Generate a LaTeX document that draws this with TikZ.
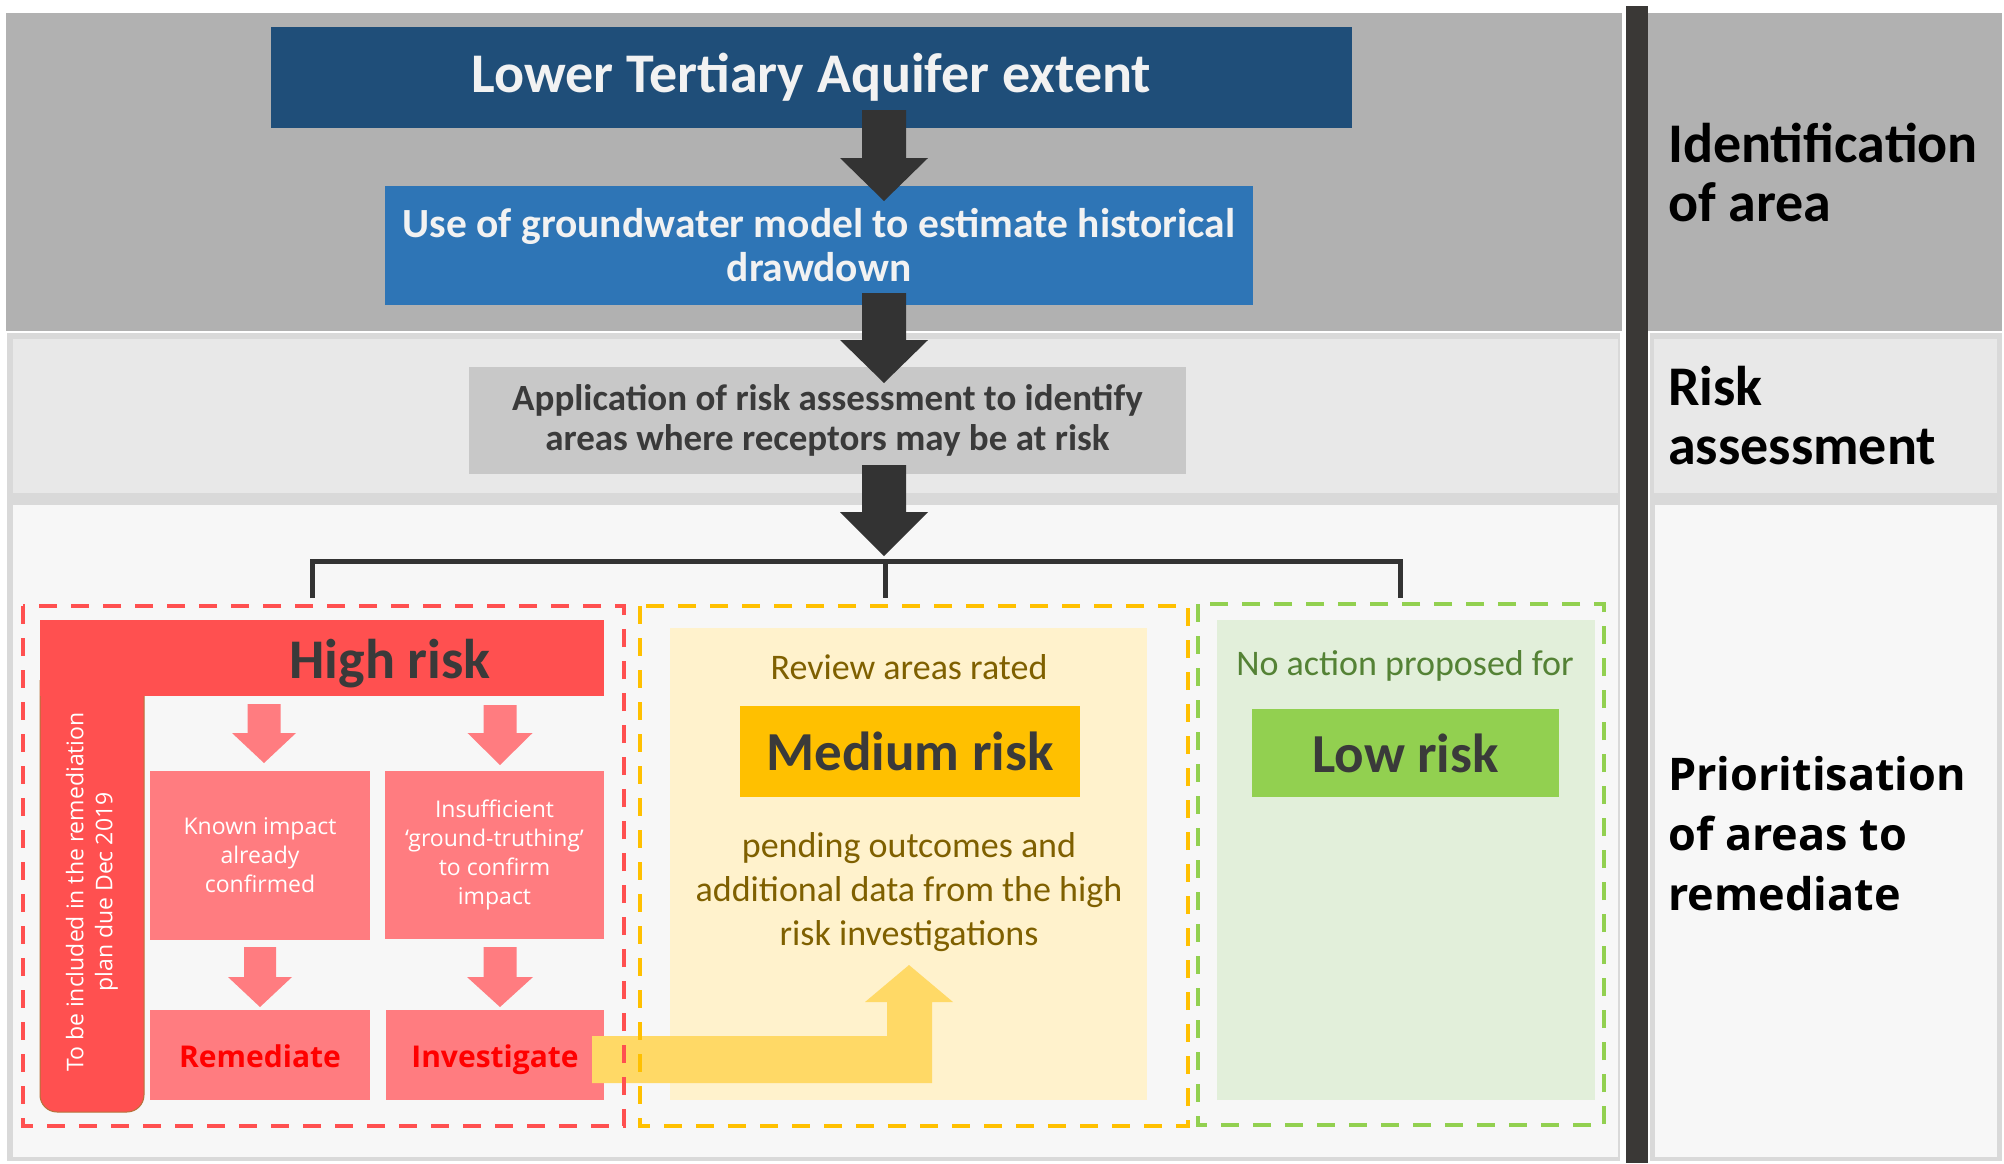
\documentclass[tikz,border=0pt]{standalone}
\usepackage{fontspec}
\setmainfont{Carlito}
\newfontfamily\seg{Open Sans}
\definecolor{bandA}{HTML}{B1B1B1}
\definecolor{bandEdge}{HTML}{D9D9D9}
\definecolor{bandB}{HTML}{E8E8E8}
\definecolor{bandC}{HTML}{F7F7F7}
\definecolor{barcol}{HTML}{3A3836}
\definecolor{navy}{HTML}{1F4E79}
\definecolor{midblue}{HTML}{2E75B6}
\definecolor{boxgray}{HTML}{C8C8C8}
\definecolor{darktxt}{HTML}{3A3A3A}
\definecolor{arrowdark}{HTML}{333333}
\definecolor{hrred}{HTML}{FF5050}
\definecolor{pinkbox}{HTML}{FF7C80}
\definecolor{brownline}{HTML}{B5733A}
\definecolor{amber}{HTML}{FFC000}
\definecolor{paleyellow}{HTML}{FFF2CC}
\definecolor{yarrow}{HTML}{FFD966}
\definecolor{olive}{HTML}{7F6000}
\definecolor{lgreen}{HTML}{92D050}
\definecolor{palegreen}{HTML}{E2EFDA}
\definecolor{dgreen}{HTML}{548235}
\newcommand{\blockdown}[7]{%
  \fill[#1] (#2-#6,#3) -- (#2+#6,#3) -- (#2+#6,#4) -- (#2+#7,#4) -- (#2,#5)
    -- (#2-#7,#4) -- (#2-#6,#4) -- cycle;}
\begin{document}
\begin{tikzpicture}[x=1pt,y=-1pt,
  box/.style={rectangle, inner sep=0pt, align=center},
  dashbox/.style={line width=4.5pt, dash pattern=on 18pt off 14pt},
  sidelabel/.style={anchor=north west, inner sep=0pt, align=left, text=black},
  bracketline/.style={draw=arrowdark, line width=5pt},
]
\useasboundingbox (0,0) rectangle (2004,1163);
\fill[white] (0,0) rectangle (2004,1163);
% bands
\fill[bandA] (6,13) rectangle (1622,331);
\fill[bandA] (1648,13) rectangle (2002,331);
\fill[bandEdge] (7,333) rectangle (1620,1161);
\fill[bandEdge] (1650,333) rectangle (2002,1161);
\fill[bandB] (13,339) rectangle (1618,493);
\fill[bandB] (1654,339) rectangle (1997,493);
\fill[bandC] (13,505) rectangle (1618,1157);
\fill[bandC] (1655,505) rectangle (1997,1157);
\fill[barcol] (1626,6) rectangle (1648,1163);

% side labels
\node[sidelabel, font=\bfseries\fontsize{56}{59}\selectfont] (lab1) at (1668,123) {Identification\\of area};
\node[sidelabel, font=\bfseries\fontsize{56}{59}\selectfont] (lab2) at (1668,366) {Risk\\assessment};
\node[sidelabel, font=\seg\bfseries\fontsize{45}{60}\selectfont] (lab3) at (1668,756) {Prioritisation\\of areas to\\remediate};

% top boxes
\node[box, fill=navy, minimum width=1081pt, minimum height=101pt, text=white!95!black,
  font=\bfseries\fontsize{56}{60}\selectfont] (b1) at (811.5,77.5) {Lower Tertiary Aquifer extent};
\node[box, fill=midblue, minimum width=868pt, minimum height=119pt, text=white!95!black,
  font=\bfseries\fontsize{41.5}{44}\selectfont] (b2) at (819,245.5) {Use of groundwater model to estimate historical\\drawdown};
\node[box, fill=boxgray, minimum width=717pt, minimum height=107pt, text=darktxt,
  font=\bfseries\fontsize{37}{40}\selectfont] (b3) at (827.5,420.5) {Application of risk assessment to identify\\areas where receptors may be at risk};

\blockdown{arrowdark}{884}{110}{158}{201}{22}{44}
\blockdown{arrowdark}{884}{293}{340}{383}{22}{44}
\blockdown{arrowdark}{884}{465}{512}{556}{22}{44}

% bracket
\coordinate (brL) at (312,598);
\coordinate (brM) at (885,598);
\coordinate (brR) at (1400,598);
\draw[bracketline] (brL) -- (312,561) -- (1400,561) -- (brR);
\draw[bracketline] (885,561) -- (brM);

% inner panels
\fill[paleyellow] (670,628) rectangle (1147,1100);
\fill[palegreen] (1217,620) rectangle (1595,1100);

% high risk L
\filldraw[fill=hrred, draw=brownline, line width=1pt, rounded corners=17pt]
  (40,680) -- (40,1112) -- (144,1112) -- (144,680);
\fill[hrred] (40,620) rectangle (604,696);
\node[box, text=darktxt, font=\bfseries\fontsize{56}{60}\selectfont] (hr) at (390,664) {High risk};
\node[box, text=white, rotate=90, font=\seg\fontsize{23}{29}\selectfont] (plan) at (92,892)
  {To be included in the remediation\\plan due Dec 2019};

\node[box, fill=pinkbox, minimum width=220pt, minimum height=169pt, text=white,
  font=\seg\fontsize{23}{29}\selectfont] (known) at (260,855.5) {Known impact\\already\\confirmed};
\node[box, fill=pinkbox, minimum width=219pt, minimum height=168pt, text=white,
  font=\seg\fontsize{23}{29}\selectfont] (insuf) at (494.5,855) {Insufficient\\‘ground-truthing’\\to confirm\\impact};
\node[box, fill=pinkbox, minimum width=220pt, minimum height=90pt, text=red,
  font=\seg\bfseries\fontsize{30}{34}\selectfont] (remed) at (260,1055) {};
\node[box, fill=pinkbox, minimum width=218pt, minimum height=90pt, text=red,
  font=\seg\bfseries\fontsize{30}{34}\selectfont] (invest) at (495,1055) {};
\node[box, text=red, font=\seg\bfseries\fontsize{30}{34}\selectfont, anchor=base] (remedt) at (260,1067) {Remediate};
\node[box, text=red, font=\seg\bfseries\fontsize{30}{34}\selectfont, anchor=base] (investt) at (495,1067) {Investigate};

\blockdown{pinkbox}{264}{704}{733}{763}{16.5}{32}
\blockdown{pinkbox}{500}{705}{733}{765}{16.5}{32.5}
\blockdown{pinkbox}{260}{947}{977}{1007}{16}{32}
\blockdown{pinkbox}{500}{947}{977}{1007}{16.5}{33}

% medium risk
\node[box, text=olive, font=\fontsize{36}{44}\selectfont] (rev) at (909,667) {Review areas rated};
\node[box, fill=amber, minimum width=340pt, minimum height=91pt, text=darktxt,
  font=\bfseries\fontsize{55}{60}\selectfont] (med) at (910,751.5) {Medium risk};
\node[box, text=olive, font=\fontsize{36}{44}\selectfont] (pend) at (909,892)
  {pending outcomes and\\additional data from the high\\risk investigations};

% low risk
\node[box, text=dgreen, font=\fontsize{36}{44}\selectfont] (noact) at (1405,666) {No action proposed for};
\node[box, fill=lgreen, minimum width=307pt, minimum height=88pt, text=darktxt,
  font=\bfseries\fontsize{55}{60}\selectfont] (low) at (1405.5,753) {Low risk};

% yellow bent arrow from Investigate up to medium panel
\fill[yarrow] (592,1036) -- (887,1036) -- (887,1002) -- (865,1002) -- (909,965)
  -- (953,1002) -- (932,1002) -- (932,1083) -- (592,1083) -- cycle;

% dashed groups
\draw[dashbox, draw=hrred] (23,606) rectangle (624,1126);
\draw[dashbox, draw=amber] (640,606) rectangle (1188,1126);
\draw[dashbox, draw=lgreen] (1198,604) rectangle (1604,1125);
\end{tikzpicture}
\end{document}
